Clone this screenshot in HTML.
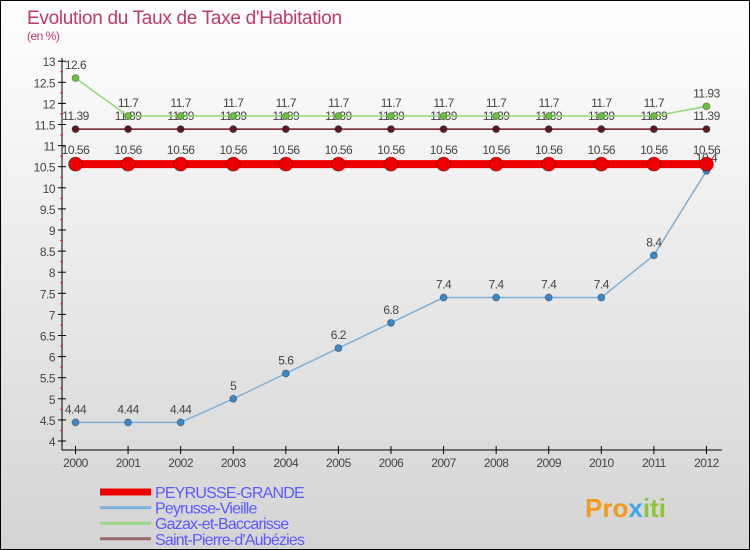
<!DOCTYPE html>
<html><head><meta charset="utf-8"><style>
body{margin:0}
#c{width:750px;height:550px;position:relative;background:linear-gradient(#fff,#d4d4d4);border:1px solid #000;box-sizing:border-box;font-family:"Liberation Sans",sans-serif;overflow:hidden}
</style></head><body>
<div id="c">
<svg id="s" width="750" height="550" style="position:absolute;left:-1px;top:-1px"></svg>
</div>
<script>
const years=[2000,2001,2002,2003,2004,2005,2006,2007,2008,2009,2010,2011,2012];
const grande=[10.56,10.56,10.56,10.56,10.56,10.56,10.56,10.56,10.56,10.56,10.56,10.56,10.56];
const vieille=[4.44,4.44,4.44,5,5.6,6.2,6.8,7.4,7.4,7.4,7.4,8.4,10.4];
const gazax=[12.6,11.7,11.7,11.7,11.7,11.7,11.7,11.7,11.7,11.7,11.7,11.7,11.93];
const stpierre=[11.39,11.39,11.39,11.39,11.39,11.39,11.39,11.39,11.39,11.39,11.39,11.39,11.39];
const yTicks=[4,4.5,5,5.5,6,6.5,7,7.5,8,8.5,9,9.5,10,10.5,11,11.5,12,12.5,13];
const NS="http://www.w3.org/2000/svg",s=document.getElementById('s');
const X=i=>75.5+i*52.58, Y=v=>441-(v-4)*42.2;
function el(t,a,p){const e=document.createElementNS(NS,t);for(const k in a)e.setAttribute(k,a[k]);(p||s).appendChild(e);return e;}
function tx(x,y,str,o,p){const e=el('text',Object.assign({x:x,y:y,'font-size':12,fill:'#444','text-anchor':'middle','letter-spacing':'-0.5'},o||{}),p);e.textContent=str;return e;}
let t=tx(27,24,"Evolution du Taux de Taxe d'Habitation",{'font-size':19,fill:'#c2386a','text-anchor':'start','letter-spacing':'-0.3'});

t=tx(27,40,"(en %)",{'font-size':12,fill:'#c2386a','text-anchor':'start'});

let ax=el('g',{});
el('line',{x1:62,y1:58,x2:62,y2:450,stroke:'#000'},ax);
yTicks.forEach(v=>{el('line',{x1:58,x2:66,y1:Y(v),y2:Y(v),stroke:'#000'},ax);tx(55,Y(v)+5,String(v),{'text-anchor':'end'},ax);});
for(let v=4.25;v<13;v+=0.5)el('line',{x1:60,x2:63,y1:Y(v),y2:Y(v),stroke:'#e22'},ax);
let xa=el('g',{});
el('line',{x1:62,y1:450,x2:722,y2:450,stroke:'#000'},xa);
years.forEach((y,i)=>{el('line',{x1:X(i),x2:X(i),y1:446,y2:454,stroke:'#000'},xa);tx(X(i),467,String(y),{},xa);});
function series(name,d,col,mcol,w,r,dy){
 const g=el('g',{});
 el('polyline',{points:d.map((v,i)=>X(i)+','+Y(v)).join(' '),fill:'none',stroke:col,'stroke-width':w},g);
 d.forEach((v,i)=>{const c=el('circle',{cx:X(i),cy:Y(v),r:r,fill:mcol,stroke:'rgba(0,0,0,0.3)'},g);
  
  tx(X(i),Y(v)-dy,String(v),{},g);});
}
series('series-stpierre',stpierre,'#6b1a1f','#5a1a1f',1.5,3.5,9);
series('series-gazax',gazax,'#8fd870','#6cc040',1.5,3.5,9);
series('series-vieille',vieille,'#7fb0d8','#3d88c8',1.5,3.5,9);
series('series-grande',grande,'#ee0000','#ee0000',8,7,10);
const leg=[['PEYRUSSE-GRANDE','#ee0000',7],['Peyrusse-Vieille','#7fb0d8',3],['Gazax-et-Baccarisse','#9ad68a',3],['Saint-Pierre-d\'Aubézies','#9a6a6a',3]];
leg.forEach((l,i)=>{const g=el('g',{});
 const y=492+i*15.6;el('line',{x1:100,x2:151,y1:y,y2:y,stroke:l[1],'stroke-width':l[2]},g);
 tx(155,y+6,l[0],{'text-anchor':'start','font-size':16,fill:'#5a5aff','letter-spacing':'-0.8'},g);});
const logo=el('text',{x:585,y:517,'font-size':26,'font-weight':'bold'});

[['Pro','#f39a1c'],['x','#3aa7e6'],['iti','#8cc63f']].forEach(p=>{const ts=el('tspan',{fill:p[1]},logo);ts.textContent=p[0];});
</script>
</body></html>
